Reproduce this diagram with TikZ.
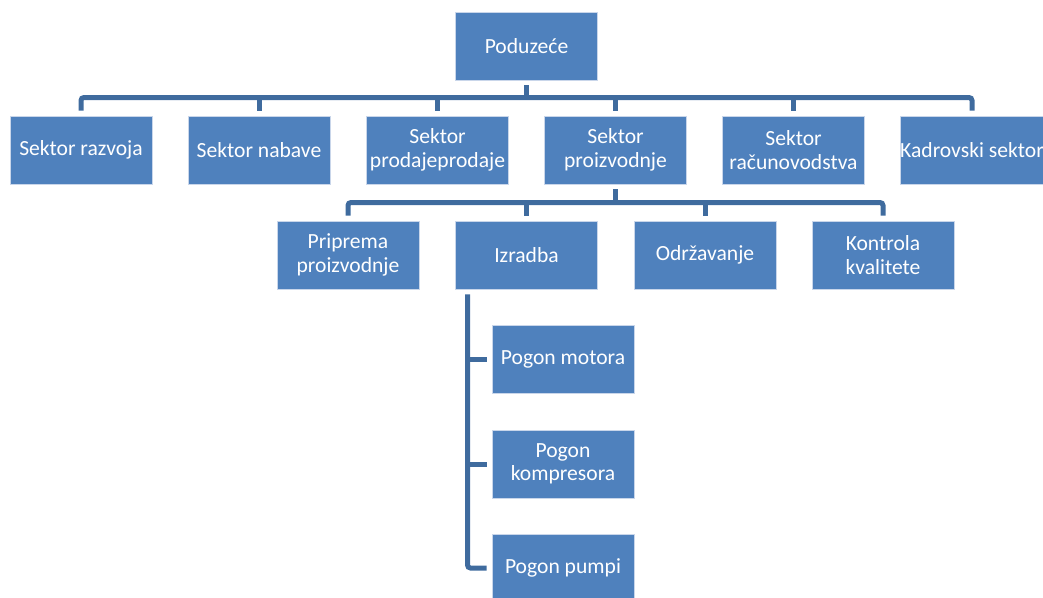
\documentclass[tikz,border=0pt]{standalone}
\usepackage{fontspec}
\setmainfont{Carlito}
\definecolor{boxfill}{HTML}{4F81BD}
\definecolor{boxline}{HTML}{C9D6EA}
\definecolor{connc}{HTML}{3F6B9E}
\begin{document}
\begin{tikzpicture}[x=1pt,y=-1pt,
  orgbox/.style={rectangle,fill=boxfill,draw=boxline,line width=0.7pt,
    minimum width=142pt,minimum height=68pt,inner sep=1pt,align=center,
    text=white,font=\fontsize{21.6}{23.5}\selectfont},
  conn/.style={draw=connc,line width=5pt,rounded corners=3pt}]
\useasboundingbox (0,0) rectangle (1043,597);
\begin{scope}
\clip (0,0) rectangle (1043,597);
\node[orgbox] (pod) at (526.5,46) {Poduzeće};
\node[orgbox] (r1) at (81,150) {Sektor razvoja};
\node[orgbox] (r2) at (259,150) {Sektor nabave};
\node[orgbox] (r3) at (437.5,150) {Sektor\\prodajeprodaje};
\node[orgbox] (r4) at (615.5,150) {Sektor\\proizvodnje};
\node[orgbox] (r5) at (793.5,150) {Sektor\\računovodstva};
\node[orgbox,inner xsep=0pt] (r6) at (972,150) {Kadrovski sektor};
\node[orgbox] (p1) at (348,255) {Priprema\\proizvodnje};
\node[orgbox] (p2) at (526.5,255) {Izradba};
\node[orgbox] (p3) at (705,255) {Održavanje};
\node[orgbox] (p4) at (883,255) {Kontrola\\kvalitete};
\node[orgbox] (g1) at (563,359) {Pogon motora};
\node[orgbox] (g2) at (563,464) {Pogon\\kompresora};
\node[orgbox] (g3) at (563,568) {Pogon pumpi};
\end{scope}
\coordinate (busA) at (0,97.5);
\coordinate (busB) at (0,202.5);
\coordinate (vx) at (467.5,0);
\coordinate (iztop) at ([yshift=-5pt]p2.south);
% top level
\draw[conn] ([yshift=-5pt]pod.south) -- (pod.south |- busA);
\draw[conn] ([yshift=5pt]r1.north) |- (pod.south |- busA) -| ([yshift=5pt]r6.north);
\foreach \n in {r2,r3,r4,r5}
  \draw[conn,rounded corners=0pt] ([yshift=5pt]\n.north) -- (\n.north |- busA);
% second level
\draw[conn] ([yshift=-5pt]r4.south) -- (r4.south |- busB);
\draw[conn] ([yshift=5pt]p1.north) |- (r4.south |- busB) -| ([yshift=5pt]p4.north);
\foreach \n in {p2,p3}
  \draw[conn,rounded corners=0pt] ([yshift=5pt]\n.north) -- (\n.north |- busB);
% Izradba children
\draw[conn] (vx |- iztop) |- ([xshift=-5pt]g3.west);
\foreach \n in {g1,g2}
  \draw[conn,rounded corners=0pt] (vx |- \n.west) -- ([xshift=-5pt]\n.west);
\end{tikzpicture}
\end{document}
